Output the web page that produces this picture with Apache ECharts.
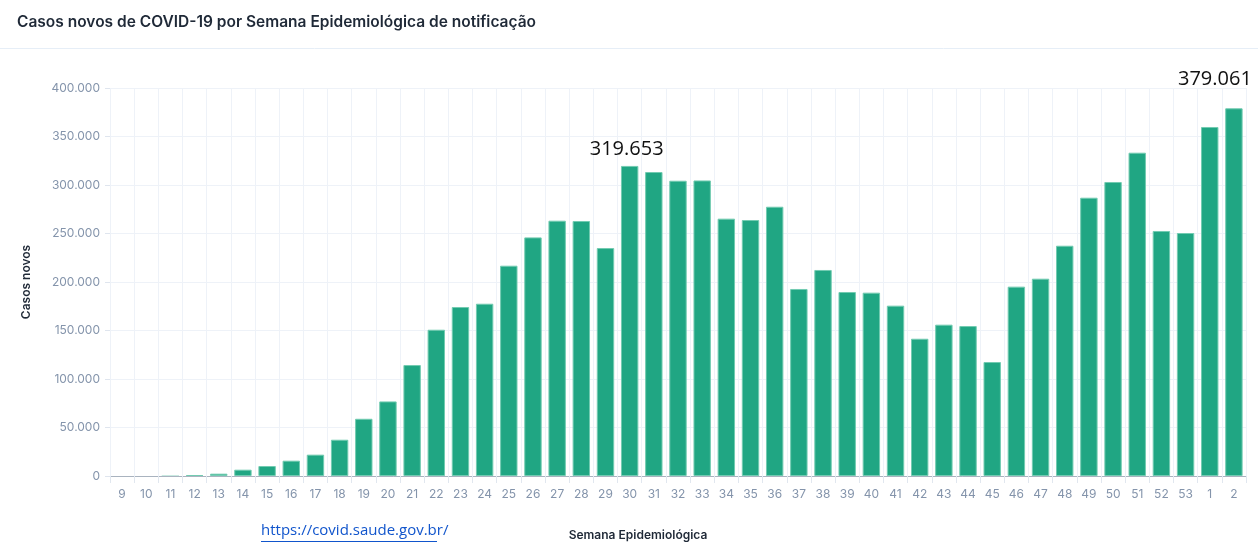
<!DOCTYPE html>
<html>
<head>
<meta charset="utf-8">
<script src="https://cdn.jsdelivr.net/npm/echarts@6/dist/echarts.min.js"></script>
<style>
html,body{margin:0;padding:0;background:#fff;}
#chart{width:1258px;height:549px;}
</style>
</head>
<body>
<div id="chart"></div>
<script>
const titleText = 'Casos novos de COVID-19 por Semana Epidemiológica de notificação';
const weeks = ['9','10','11','12','13','14','15','16','17','18','19','20','21','22','23','24','25','26','27','28','29','30','31','32','33','34','35','36','37','38','39','40','41','42','43','44','45','46','47','48','49','50','51','52','53','1','2'];
const newCases = [2, 30, 250, 1000, 2400, 6500, 10300, 15800, 22000, 37400, 59000, 76900, 114400, 150800, 174200, 177600, 216800, 246000, 263200, 262900, 235000, 319653, 313400, 304400, 304700, 265300, 263900, 277600, 192800, 212400, 189700, 189000, 175600, 141500, 156000, 154600, 117500, 195200, 203400, 237400, 286900, 303100, 333300, 252600, 250500, 359800, 379061];
const yTicks = [0, 50000, 100000, 150000, 200000, 250000, 300000, 350000, 400000];
const annotated = ['30', '2'];
const sourceText = 'https://covid.saude.gov.br/';

const fmt = v => String(v).replace(/\B(?=(\d{3})+(?!\d))/g, '.');

const chart = echarts.init(document.getElementById('chart'));
const seriesData = newCases.map((v, i) => {
  const wk = weeks[i];
  if (annotated.indexOf(wk) < 0) {
    if (v < 800) return {value: v, itemStyle: {borderWidth: 0}};
    return v;
  }
  const last = i === weeks.length - 1;
  return {
    value: v,
    label: {
      show: true,
      position: 'top',
      distance: last ? 19 : 7,
      offset: last ? [-19, 0] : [-3, 0],
      formatter: p => fmt(p.value),
      fontFamily: 'Open Sans',
      fontSize: 20,
      color: '#111',
      lineHeight: 20
    }
  };
});

chart.setOption({
  backgroundColor: '#ffffff',
  animation: false,
  title: {
    text: titleText,
    left: 12,
    top: 9,
    textStyle: {fontFamily: 'Inter', fontSize: 15.5, fontWeight: 600, color: '#1f2937'}
  },
  graphic: [
    {type: 'line', shape: {x1: 0, y1: 48.5, x2: 1258, y2: 48.5}, style: {stroke: '#e6eef7', lineWidth: 1}},
    {type: 'text', left: 261, top: 523, style: {text: sourceText, fontFamily: 'Open Sans', fontSize: 15, fill: '#1155cc'}},
    {type: 'line', shape: {x1: 261, y1: 541.5, x2: 437, y2: 541.5}, style: {stroke: '#1155cc', lineWidth: 1}}
  ],
  grid: {left: 110, right: 12, top: 88, bottom: 73, containLabel: false},
  xAxis: {
    type: 'category',
    data: weeks,
    name: 'Semana Epidemiológica',
    nameLocation: 'middle',
    nameGap: 53,
    nameTextStyle: {fontFamily: 'Inter', fontSize: 12, fontWeight: 600, color: '#1f2937', padding: [0, 80, 0, 0]},
    axisLine: {lineStyle: {color: '#a9b3bf', width: 1}},
    axisTick: {show: true, length: 7, lineStyle: {color: '#e1e7ef'}},
    axisLabel: {fontFamily: 'Inter', fontSize: 12, color: '#8494ab', margin: 12, interval: 0},
    splitLine: {show: true, lineStyle: {color: '#eef2f8'}}
  },
  yAxis: {
    type: 'value',
    min: yTicks[0],
    max: yTicks[yTicks.length - 1],
    interval: yTicks[1] - yTicks[0],
    name: 'Casos novos',
    nameLocation: 'middle',
    nameGap: 78,
    nameTextStyle: {fontFamily: 'Inter', fontSize: 12, fontWeight: 600, color: '#1f2937'},
    axisLine: {show: false},
    axisTick: {show: true, length: 5, lineStyle: {color: '#dfe5ee'}},
    axisLabel: {fontFamily: 'Inter', fontSize: 12, color: '#8494ab', margin: 10, formatter: v => fmt(v)},
    splitLine: {show: true, lineStyle: {color: '#eef2f8'}}
  },
  series: [{
    type: 'bar',
    data: seriesData,
    barCategoryGap: '28%',
    itemStyle: {color: '#20a683', borderColor: '#72cbb1', borderWidth: 1}
  }]
});
</script>
</body>
</html>
